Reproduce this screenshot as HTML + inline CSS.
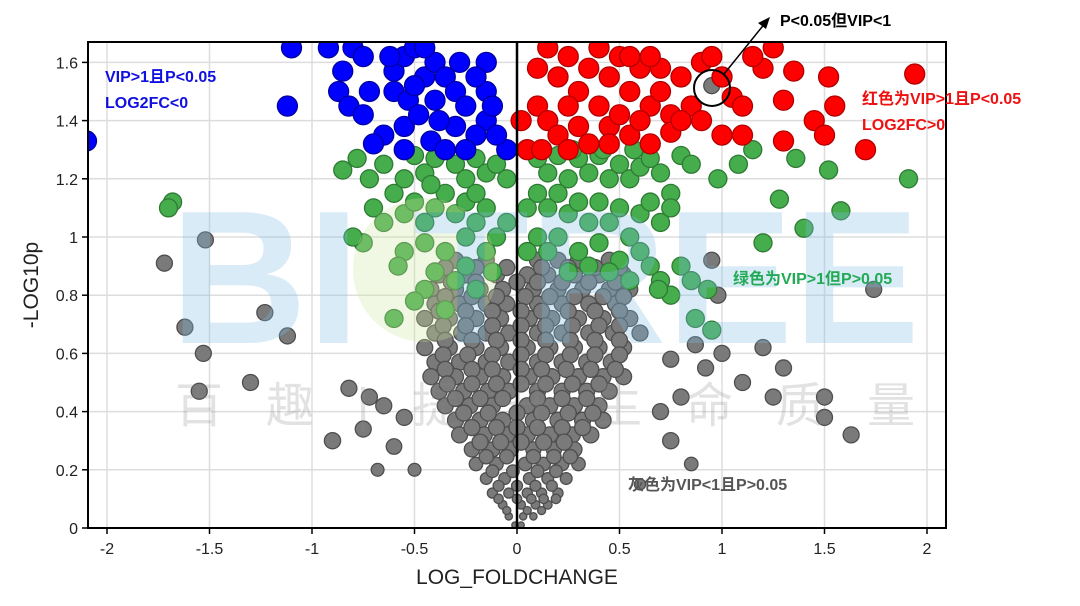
<!DOCTYPE html>
<html><head><meta charset="utf-8"><style>
html,body{margin:0;padding:0;background:#fff;width:1080px;height:606px;overflow:hidden}
svg{display:block}
text{font-family:"Liberation Sans","Noto Sans CJK SC",sans-serif}
</style></head><body>
<svg id="chart" width="1080" height="606" viewBox="0 0 1080 606" xmlns="http://www.w3.org/2000/svg">
<g id="grid"></g>
<g id="pts"></g>
<g id="wm" opacity="0.3">
  <circle cx="425" cy="270" r="72" fill="#cfe8a0"/>
  <text x="170" y="343" font-size="190" font-weight="bold" fill="#7fc0e8" textLength="750" lengthAdjust="spacingAndGlyphs">BI  TREE</text>
  <text x="175" y="422" font-size="48" fill="#888" opacity="0.8" textLength="740" lengthAdjust="spacing">百 趣 | 提 升 生 命 质 量</text>
</g>
<g id="axes"></g>
<g>
  <circle cx="712" cy="88" r="18" fill="none" stroke="#000" stroke-width="2"/>
  <line x1="724" y1="74" x2="766" y2="22" stroke="#000" stroke-width="1.5"/>
  <polygon points="770,17 758,23 766,29" fill="#000"/>
  <text x="780" y="26" font-size="16" font-weight="bold" fill="#000">P&lt;0.05但VIP&lt;1</text>
</g>
<g font-weight="bold" font-size="16">
  <text x="105" y="82" fill="#1010e0">VIP&gt;1且P&lt;0.05</text>
  <text x="105" y="108" fill="#1010e0">LOG2FC&lt;0</text>
  <text x="862" y="104" fill="#ee1111">红色为VIP&gt;1且P&lt;0.05</text>
  <text x="862" y="130" fill="#ee1111">LOG2FC&gt;0</text>
  <text x="733" y="284" fill="#22aa55">绿色为VIP&gt;1但P&gt;0.05</text>
  <text x="628" y="490" fill="#555">灰色为VIP&lt;1且P&gt;0.05</text>
</g>
</svg>
<script>
const xTicks=[-2,-1.5,-1,-0.5,0,0.5,1,1.5,2];
const xTickLabels=["-2","-1.5","-1","-0.5","0","0.5","1","1.5","2"];
const yTicks=[0,0.2,0.4,0.6,0.8,1,1.2,1.4,1.6];
const yTickLabels=["0","0.2","0.4","0.6","0.8","1","1.2","1.4","1.6"];
const bluePts=[[-1.1,1.65],[-1.12,1.45],[-0.92,1.65],[-0.85,1.57],[-0.8,1.65],[-0.87,1.5],[-0.82,1.45],[-0.72,1.5],[-0.75,1.42],[-0.6,1.57],[-0.55,1.62],[-0.5,1.65],[-0.6,1.5],[-0.53,1.47],[-0.55,1.38],[-0.48,1.42],[-0.45,1.55],[-0.4,1.6],[-0.35,1.55],[-0.3,1.5],[-0.25,1.45],[-0.15,1.5],[-0.15,1.6],[-0.15,1.4],[-0.2,1.35],[-0.3,1.38],[-0.42,1.33],[-0.55,1.3],[-0.65,1.35],[-0.7,1.32],[-0.35,1.3],[-0.05,1.3],[-0.1,1.35],[-0.25,1.3],[-0.4,1.47],[-0.5,1.52],[-2.1,1.33],[-0.62,1.62],[-0.28,1.6],[-0.75,1.62],[-0.45,1.65],[-0.2,1.55],[-0.38,1.4],[-0.12,1.45]];
const redPts=[[0.1,1.58],[0.15,1.65],[0.2,1.55],[0.25,1.62],[0.3,1.5],[0.35,1.58],[0.4,1.65],[0.45,1.55],[0.5,1.62],[0.55,1.5],[0.6,1.58],[0.65,1.45],[0.1,1.45],[0.15,1.4],[0.2,1.35],[0.25,1.45],[0.3,1.38],[0.35,1.32],[0.4,1.45],[0.45,1.38],[0.5,1.42],[0.55,1.35],[0.6,1.4],[0.65,1.32],[0.7,1.5],[0.75,1.42],[0.8,1.55],[0.85,1.45],[0.9,1.6],[0.95,1.62],[1.0,1.55],[1.05,1.48],[1.1,1.45],[1.0,1.35],[0.9,1.4],[1.1,1.35],[1.2,1.58],[1.25,1.65],[1.35,1.57],[1.3,1.47],[1.45,1.4],[1.52,1.55],[1.55,1.45],[1.5,1.35],[1.3,1.33],[1.7,1.3],[1.94,1.56],[0.05,1.3],[0.12,1.3],[0.25,1.3],[0.45,1.32],[0.75,1.36],[0.7,1.58],[0.8,1.4],[0.65,1.62],[1.15,1.62],[0.55,1.62],[0.02,1.4]];
const greenPts=[[-1.68,1.12],[-1.7,1.1],[-0.85,1.23],[-0.78,1.27],[-0.72,1.2],[-0.65,1.25],[-0.6,1.15],[-0.55,1.2],[-0.5,1.28],[-0.45,1.22],[-0.4,1.27],[-0.35,1.3],[-0.3,1.25],[-0.25,1.2],[-0.2,1.27],[-0.15,1.22],[-0.1,1.25],[-0.05,1.2],[-0.7,1.1],[-0.65,1.05],[-0.55,1.08],[-0.5,1.12],[-0.45,1.05],[-0.4,1.1],[-0.35,1.15],[-0.3,1.08],[-0.25,1.12],[-0.2,1.05],[-0.15,1.1],[-0.1,1.0],[-0.05,1.05],[-0.75,0.98],[-0.55,0.95],[-0.45,0.98],[-0.35,0.95],[-0.25,0.9],[-0.15,0.95],[-0.3,0.85],[-0.4,0.88],[-0.45,0.82],[-0.58,0.9],[-0.2,0.82],[-0.35,0.75],[-0.5,0.78],[-0.12,0.88],[-0.8,1.0],[-0.6,0.72],[-0.25,1.0],[-0.42,1.18],[-0.2,1.15],
[0.1,1.27],[0.15,1.22],[0.2,1.28],[0.25,1.2],[0.3,1.27],[0.35,1.22],[0.4,1.28],[0.45,1.2],[0.5,1.25],[0.55,1.2],[0.6,1.24],[0.65,1.27],[0.7,1.22],[0.75,1.15],[0.8,1.28],[0.85,1.25],[0.1,1.15],[0.15,1.1],[0.2,1.15],[0.25,1.08],[0.3,1.12],[0.35,1.05],[0.4,1.12],[0.45,1.05],[0.5,1.1],[0.55,1.0],[0.6,1.08],[0.65,1.12],[0.7,1.05],[0.75,1.1],[0.1,1.0],[0.15,0.95],[0.2,1.0],[0.3,0.95],[0.4,0.98],[0.5,0.92],[0.6,0.95],[0.65,0.9],[0.7,0.85],[0.75,0.8],[0.55,0.85],[0.45,0.88],[0.35,0.9],[0.25,0.88],[0.8,0.9],[0.85,0.85],[0.93,0.82],[0.87,0.72],[0.95,0.68],[0.69,0.82],[0.05,1.1],[0.05,0.95],[0.98,1.2],[1.15,1.3],[1.28,1.13],[1.36,1.27],[1.52,1.23],[1.58,1.09],[1.91,1.2],[1.4,1.03],[1.2,0.98],[0.57,1.3],[0.42,1.3],[0.27,1.3],[1.08,1.25]];
const grayPts=[[-1.72,0.91],[-1.52,0.99],[-1.62,0.69],[-1.53,0.6],[-1.3,0.5],[-1.23,0.74],[-1.12,0.66],[-1.55,0.47],[-0.9,0.3],[-0.82,0.48],[-0.72,0.45],[-0.6,0.28],[-0.65,0.42],[-0.55,0.38],[-0.75,0.34],[-0.68,0.2],[-0.5,0.2],[0.95,0.92],[0.98,0.8],[1.2,0.62],[1.0,0.6],[0.92,0.55],[1.1,0.5],[1.25,0.45],[0.8,0.45],[0.7,0.4],[0.75,0.3],[0.85,0.22],[0.6,0.15],[1.3,0.55],[1.5,0.45],[1.5,0.38],[1.63,0.32],[1.74,0.82],[0.87,0.63],[0.75,0.58],[0.95,1.52],
[-0.3,0.92],[-0.15,0.92],[0.1,0.92],[0.2,0.92],[0.3,0.92],[0.45,0.92],
[-0.38,0.87],[-0.25,0.87],[-0.1,0.87],[0.05,0.87],[0.15,0.87],[0.28,0.87],[0.4,0.87],[0.52,0.87],
[-0.42,0.82],[-0.3,0.82],[-0.18,0.82],[-0.07,0.82],[0.08,0.82],[0.2,0.82],[0.32,0.82],[0.45,0.82],[0.55,0.82],
[-0.4,0.77],[-0.28,0.77],[-0.15,0.77],[-0.05,0.77],[0.1,0.77],[0.22,0.77],[0.35,0.77],[0.48,0.77],
[-0.45,0.72],[-0.33,0.72],[-0.2,0.72],[-0.08,0.72],[0.06,0.72],[0.17,0.72],[0.3,0.72],[0.42,0.72],[0.55,0.72],
[-0.4,0.67],[-0.27,0.67],[-0.15,0.67],[-0.04,0.67],[0.1,0.67],[0.22,0.67],[0.35,0.67],[0.47,0.67],[0.6,0.67],
[-0.45,0.62],[-0.33,0.62],[-0.2,0.62],[-0.08,0.62],[0.05,0.62],[0.16,0.62],[0.28,0.62],[0.4,0.62],[0.52,0.62],
[-0.4,0.57],[-0.28,0.57],[-0.15,0.57],[-0.04,0.57],[0.1,0.57],[0.22,0.57],[0.34,0.57],[0.46,0.57],
[-0.42,0.52],[-0.3,0.52],[-0.18,0.52],[-0.07,0.52],[0.06,0.52],[0.17,0.52],[0.3,0.52],[0.42,0.52],[0.52,0.52],
[-0.38,0.47],[-0.26,0.47],[-0.14,0.47],[-0.04,0.47],[0.1,0.47],[0.22,0.47],[0.34,0.47],[0.45,0.47],
[-0.35,0.42],[-0.23,0.42],[-0.12,0.42],[0.05,0.42],[0.16,0.42],[0.28,0.42],[0.4,0.42],
[-0.3,0.37],[-0.18,0.37],[-0.07,0.37],[0.08,0.37],[0.2,0.37],[0.32,0.37],[0.42,0.37],
[-0.28,0.32],[-0.16,0.32],[-0.05,0.32],[0.05,0.32],[0.16,0.32],[0.27,0.32],[0.36,0.32],
[-0.22,0.27],[-0.12,0.27],[-0.03,0.27],[0.08,0.27],[0.18,0.27],[0.28,0.27],
[-0.2,0.22],[-0.1,0.22],[0.04,0.22],[0.13,0.22],[0.22,0.22],[0.3,0.22],
[-0.15,0.17],[-0.06,0.17],[0.06,0.17],[0.15,0.17],[0.24,0.17],
[-0.12,0.12],[-0.04,0.12],[0.05,0.12],[0.12,0.12],[0.2,0.12],
[-0.07,0.08],[0.02,0.08],[0.09,0.08],[0.15,0.08],
[-0.04,0.04],[0.03,0.04],[0.08,0.04],[-0.01,0.01],[0.02,0.01],
[-0.35,0.895],[-0.2,0.895],[-0.05,0.895],[0.12,0.895],[0.25,0.895],[0.38,0.895],[0.5,0.895],
[-0.32,0.845],[-0.2,0.845],[0.0,0.845],[0.1,0.845],[0.22,0.845],[0.35,0.845],[0.48,0.845],
[-0.35,0.795],[-0.22,0.795],[-0.1,0.795],[0.04,0.795],[0.16,0.795],[0.28,0.795],[0.42,0.795],[0.52,0.795],
[-0.38,0.745],[-0.25,0.745],[-0.12,0.745],[0.02,0.745],[0.12,0.745],[0.25,0.745],[0.38,0.745],[0.5,0.745],
[-0.36,0.695],[-0.25,0.695],[-0.12,0.695],[0.02,0.695],[0.14,0.695],[0.27,0.695],[0.4,0.695],[0.5,0.695],
[-0.35,0.645],[-0.22,0.645],[-0.1,0.645],[0.02,0.645],[0.14,0.645],[0.26,0.645],[0.38,0.645],[0.5,0.645],
[-0.36,0.595],[-0.24,0.595],[-0.12,0.595],[0.02,0.595],[0.14,0.595],[0.26,0.595],[0.38,0.595],[0.5,0.595],
[-0.35,0.545],[-0.22,0.545],[-0.12,0.545],[0.02,0.545],[0.12,0.545],[0.24,0.545],[0.36,0.545],[0.48,0.545],
[-0.34,0.495],[-0.22,0.495],[-0.1,0.495],[0.02,0.495],[0.14,0.495],[0.27,0.495],[0.4,0.495],
[-0.3,0.445],[-0.18,0.445],[-0.07,0.445],[0.1,0.445],[0.22,0.445],[0.34,0.445],
[-0.26,0.395],[-0.14,0.395],[0.0,0.395],[0.12,0.395],[0.25,0.395],[0.37,0.395],
[-0.22,0.345],[-0.1,0.345],[0.0,0.345],[0.1,0.345],[0.22,0.345],[0.32,0.345],
[-0.18,0.295],[-0.08,0.295],[0.02,0.295],[0.13,0.295],[0.23,0.295],
[-0.15,0.245],[-0.05,0.245],[0.08,0.245],[0.18,0.245],[0.26,0.245],
[-0.12,0.195],[-0.02,0.195],[0.1,0.195],[0.19,0.195],
[-0.09,0.145],[0.0,0.145],[0.09,0.145],[0.17,0.145],
[-0.09,0.1],[0.0,0.1],[0.07,0.1],[0.13,0.1],[0.19,0.1],
[-0.05,0.06],[0.05,0.06],[0.12,0.06]];

const NS="http://www.w3.org/2000/svg";
const L=88,R=946,T=42,B=528;
function X(v){return 517+205*v;}
function Y(v){return 528-291*v;}
function mk(tag,attrs,parent){const e=document.createElementNS(NS,tag);for(const k in attrs)e.setAttribute(k,attrs[k]);parent.appendChild(e);return e;}
const grid=document.getElementById('grid'),pts=document.getElementById('pts'),axes=document.getElementById('axes');
xTicks.forEach(v=>{const l=mk('line',{x1:X(v),x2:X(v),y1:T,y2:B,stroke:'#ddd','stroke-width':1.5},grid);

});
yTicks.forEach(v=>{const l=mk('line',{x1:L,x2:R,y1:Y(v),y2:Y(v),stroke:'#ddd','stroke-width':1.5},grid);

});
function draw(arr,fill,stroke,name,rf){arr.forEach(p=>{const cx=X(p[0]),cy=Y(p[1]);if(cx<L-12||cx>R+12)return;
const c=mk('circle',{cx:cx,cy:cy,r:rf(p),fill:fill,stroke:stroke,'stroke-width':1.3,'clip-path':'url(#clip)'},pts);

});}
const defs=mk('defs',{},document.getElementById('chart'));
const cp=mk('clipPath',{id:'clip'},defs);mk('rect',{x:L,y:T,width:R-L,height:B-T},cp);
draw(grayPts,'#7a7a7a','#4e4e4e','gray-point',p=>p[1]>0.3?8:(3+p[1]*17));
draw(greenPts,'#45ad4c','#2e7a34','green-point',p=>9);
draw(bluePts,'#0000ff','#0000a0','blue-point',p=>10);
draw(redPts,'#ff0000','#b00000','red-point',p=>10);
let f=mk('rect',{x:L,y:T,width:R-L,height:B-T,fill:'none',stroke:'#000','stroke-width':2},axes);


let z=mk('line',{x1:X(0),x2:X(0),y1:T,y2:B,stroke:'#000','stroke-width':2.5},axes);


xTicks.forEach((v,i)=>{mk('line',{x1:X(v),x2:X(v),y1:B,y2:B+6,stroke:'#000','stroke-width':1.5},axes);
const t=mk('text',{x:X(v),y:B+26,'font-size':16,'text-anchor':'middle',fill:'#222'},axes);t.textContent=xTickLabels[i];

});
yTicks.forEach((v,i)=>{mk('line',{x1:L-6,x2:L,y1:Y(v),y2:Y(v),stroke:'#000','stroke-width':1.5},axes);
const t=mk('text',{x:L-10,y:Y(v)+6,'font-size':16,'text-anchor':'end',fill:'#222'},axes);t.textContent=yTickLabels[i];

});
let xt=mk('text',{x:517,y:584,'font-size':21,'text-anchor':'middle',fill:'#222'},axes);xt.textContent='LOG_FOLDCHANGE';


let yt=mk('text',{x:38,y:285,'font-size':21,'text-anchor':'middle',fill:'#222',transform:'rotate(-90 38 285)'},axes);yt.textContent='-LOG10p';


</script>
</body></html>
